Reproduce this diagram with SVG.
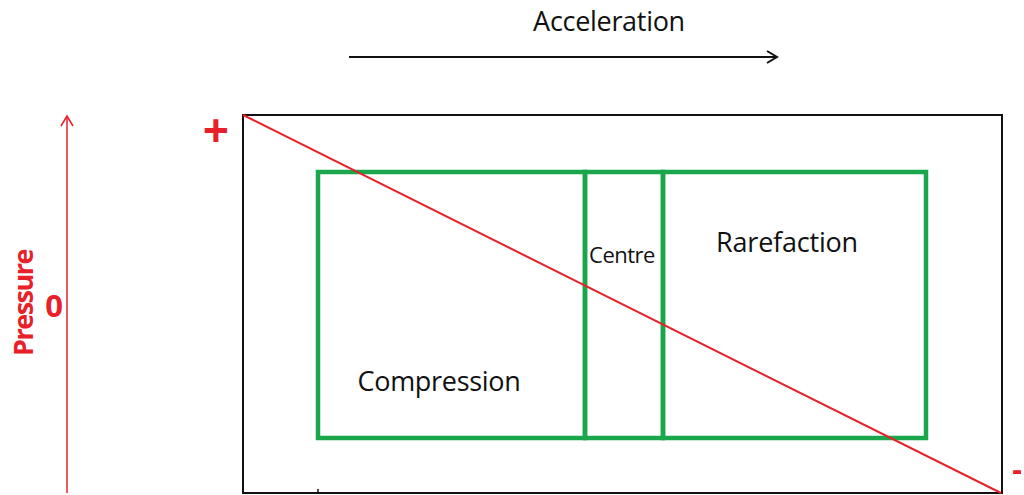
<svg xmlns="http://www.w3.org/2000/svg" width="1024" height="495" viewBox="0 0 1024 495">
<style>
.t{font-family:"Open Sans","Liberation Sans",sans-serif;fill:#111}
.r{font-family:"Open Sans","Liberation Sans",sans-serif;fill:#e8202a;font-weight:bold}
.g{fill:none;stroke:#1aa64a;stroke-width:4.5}
</style>
<defs>
<marker id="ak" markerWidth="16" markerHeight="16" refX="12" refY="8" orient="auto" markerUnits="userSpaceOnUse">
<path d="M2,2 L12,8 L2,14" fill="none" stroke="#111" stroke-width="2"/>
</marker>
<marker id="ar" markerWidth="16" markerHeight="16" refX="12" refY="8" orient="auto" markerUnits="userSpaceOnUse">
<path d="M2,2 L12,8 L2,14" fill="none" stroke="#e8202a" stroke-width="1.5"/>
</marker>
</defs>
<rect width="1024" height="495" fill="#fff"/>
<g id="frame">
<rect x="243" y="115" width="759" height="378" fill="none" stroke="#111" stroke-width="2"/>
<line x1="318" y1="489" x2="318" y2="493" stroke="#111" stroke-width="1.5"/>
</g>
<g id="compression">
<rect class="g" x="318" y="172" width="267" height="266"/>
<text class="t" x="439" y="391" font-size="27" text-anchor="middle" letter-spacing="-0.3">Compression</text>
</g>
<g id="centre">
<rect class="g" x="585" y="172" width="78" height="266"/>
<text class="t" x="622" y="263" font-size="22" text-anchor="middle" letter-spacing="-0.5">Centre</text>
</g>
<g id="rarefaction">
<rect class="g" x="663" y="172" width="263" height="266"/>
<text class="t" x="787" y="252" font-size="27" text-anchor="middle" letter-spacing="-0.2">Rarefaction</text>
</g>
<g id="connectors">
<line x1="243" y1="115" x2="1001" y2="493" stroke="#e8202a" stroke-width="2"/>
<line x1="349" y1="57" x2="777" y2="57" stroke="#111" stroke-width="2" marker-end="url(#ak)"/>
<line x1="67" y1="493" x2="67" y2="116" stroke="#e8202a" stroke-width="1.5" marker-end="url(#ar)"/>
</g>
<g id="labels">
<text class="t" x="609" y="31" font-size="27" text-anchor="middle" letter-spacing="-0.3">Acceleration</text>
<text class="r" x="0" y="0" font-size="27" text-anchor="middle" transform="translate(33,303) rotate(-90)" letter-spacing="-1.5">Pressure</text>
<text class="r" x="54" y="317" font-size="31" text-anchor="middle">0</text>
<text class="r" x="216" y="147" font-size="46" text-anchor="middle">+</text>
<text class="r" x="1017" y="480" font-size="30" text-anchor="middle">-</text>
</g>
</svg>
